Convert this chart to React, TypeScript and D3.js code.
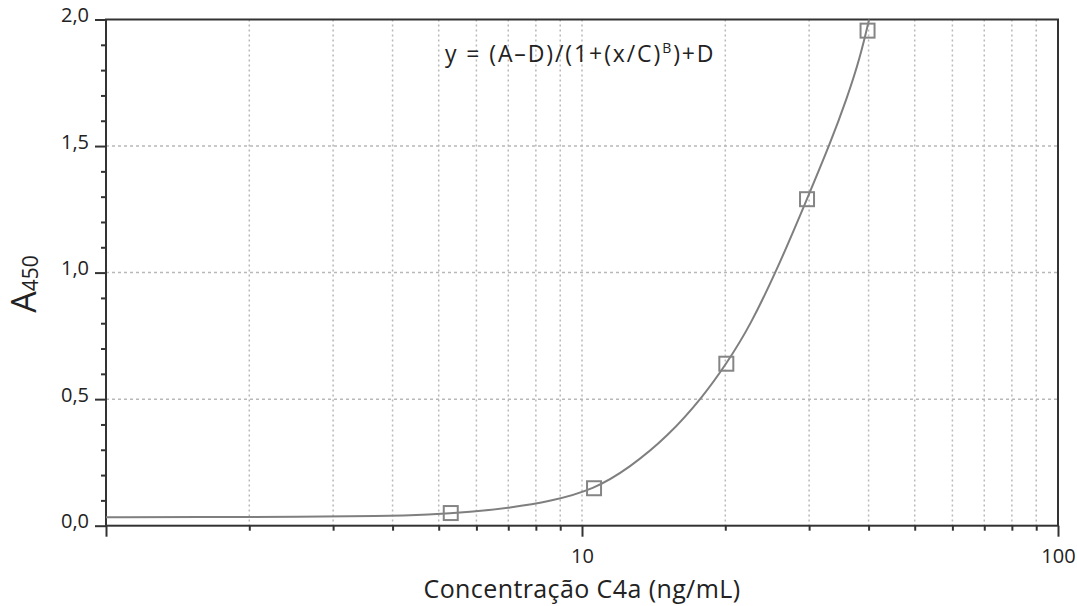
import { useRef, useEffect } from 'react'
import * as d3 from 'd3'

// measured standards
const concentration = [5.3, 10.6, 20.1, 29.7, 39.8]
const absorbance = [0.05, 0.148, 0.64, 1.29, 1.956]

// fitted curve
const fitX = [1.0, 1.58, 2.56, 3.76, 4.79, 5.82, 7.06, 8.57, 10.6, 12.6, 15.1, 18.0, 20.1, 22.5, 26.1, 29.7, 33.2, 36.0, 38.4, 40.1]
const fitY = [0.033, 0.034, 0.035, 0.038, 0.044, 0.054, 0.071, 0.096, 0.143, 0.230, 0.350, 0.512, 0.640, 0.785, 1.040, 1.291, 1.509, 1.687, 1.850, 2.0]

const yMajor = [0, 0.5, 1.0, 1.5, 2.0]
const yMinor = [0.1, 0.2, 0.3, 0.4, 0.6, 0.7, 0.8, 0.9, 1.1, 1.2, 1.3, 1.4, 1.6, 1.7, 1.8, 1.9]
const xMajor = [1, 10, 100]
const xMinor = [2, 3, 4, 5, 6, 7, 8, 9, 20, 30, 40, 50, 60, 70, 80, 90]
const xLabels = [10, 100]

const FONT = '"Open Sans", Lato, sans-serif'

const App = () => {
    const svgRef = useRef<SVGSVGElement>(null)

    useEffect(() => {
        document.body.style.margin = '0'
        const w = 1077
        const h = 606
        const left = 106, right = 1058, top = 19.5, bottom = 525.7

        const svg = d3.select(svgRef.current)
            .attr('width', w)
            .attr('height', h)
            .style('background', '#fff')
            .style('display', 'block')
        svg.selectAll('*').remove()

        const x = d3.scaleLog().domain([1, 100]).range([left, right])
        const y = d3.scaleLinear().domain([0, 2]).range([bottom, top])

        // grid
        const grid = svg.append('g')
        grid.selectAll('.vg')
            .data([...xMinor, 10].filter(d => d < 100))
            .join('line')
                .attr('x1', d => x(d)).attr('x2', d => x(d))
                .attr('y1', top).attr('y2', bottom)
                .attr('stroke', '#b8b8b8')
                .attr('stroke-width', 1.5)
                .attr('stroke-dasharray', '2,3')
        grid.selectAll('.hg')
            .data([0.5, 1.0, 1.5])
            .join('line')
                .attr('x1', left).attr('x2', right)
                .attr('y1', d => y(d)).attr('y2', d => y(d))
                .attr('stroke', '#b8b8b8')
                .attr('stroke-width', 1.5)
                .attr('stroke-dasharray', '3,3')

        // axes
        const styleAxis = (g: any) => {
            g.select('.domain').remove()
            g.selectAll('line').attr('stroke', '#333').attr('stroke-width', 2)
            g.selectAll('text').attr('font-family', FONT).attr('font-size', 20).attr('fill', '#222')
        }
        svg.append('g')
            .attr('transform', `translate(${left},0)`)
            .call(d3.axisLeft(y).tickValues(yMinor).tickSize(5).tickFormat(() => ''))
            .call(styleAxis)
        svg.append('g')
            .attr('transform', `translate(${left},0)`)
            .call(d3.axisLeft(y).tickValues(yMajor).tickSize(11).tickPadding(6)
                .tickFormat(d => d3.format('.1f')(d as number).replace('.', ',')))
            .call(styleAxis)
            .selectAll('text').attr('dy', '0.1em')
        svg.append('g')
            .attr('transform', `translate(0,${bottom})`)
            .call(d3.axisBottom(x).tickValues(xMinor).tickSize(5).tickFormat(() => ''))
            .call(styleAxis)
        svg.append('g')
            .attr('transform', `translate(0,${bottom})`)
            .call(d3.axisBottom(x).tickValues(xMajor).tickSize(11).tickPadding(12)
                .tickFormat(d => xLabels.includes(d as number) ? String(d) : ''))
            .call(styleAxis)

        // frame
        svg.append('rect')
            .attr('x', left).attr('y', top)
            .attr('width', right - left).attr('height', bottom - top)
            .attr('fill', 'none')
            .attr('stroke', '#333')
            .attr('stroke-width', 2)

        // fitted curve
        const line = d3.line<number>()
            .x(d => x(d))
            .y((d, i) => y(fitY[i]))
            .curve(d3.curveBasis)
        svg.append('path')
            .attr('d', line(fitX))
            .attr('fill', 'none')
            .attr('stroke', '#7f7f7f')
            .attr('stroke-width', 2)

        // points
        const s = 14
        svg.selectAll('.pt')
            .data(concentration)
            .join('rect')
                .attr('x', d => x(d) - s / 2)
                .attr('y', (d, i) => y(absorbance[i]) - s / 2)
                .attr('width', s).attr('height', s)
                .attr('fill', 'none')
                .attr('stroke', '#858585')
                .attr('stroke-width', 2)

        // equation
        const eq = svg.append('text')
            .attr('x', 445).attr('y', 62)
            .attr('font-family', FONT).attr('font-size', 23).attr('fill', '#222')
            .attr('letter-spacing', 1.9)
        eq.append('tspan').text('y = (A–D)/(1+(x/C)')
        eq.append('tspan').attr('font-size', 14).attr('dy', -9).text('B')
        eq.append('tspan').attr('dy', 9).text(')+D')

        // axis titles
        svg.append('text')
            .attr('x', x(10)).attr('y', 598)
            .attr('text-anchor', 'middle')
            .attr('font-family', FONT).attr('font-size', 25).attr('fill', '#222')
            .attr('letter-spacing', 0.4)
            .text('Concentração C4a (ng/mL)')
        const yt = svg.append('text')
            .attr('transform', `translate(36,284) rotate(-90)`)
            .attr('text-anchor', 'middle')
            .attr('font-family', FONT).attr('font-size', 34).attr('fill', '#222')
        yt.append('tspan').text('A')
        yt.append('tspan').attr('font-size', 21).attr('dy', 2).text('450')
    }, [])

    return (
        <div>
            <svg ref={svgRef}></svg>
        </div>
    )
}

export default App
